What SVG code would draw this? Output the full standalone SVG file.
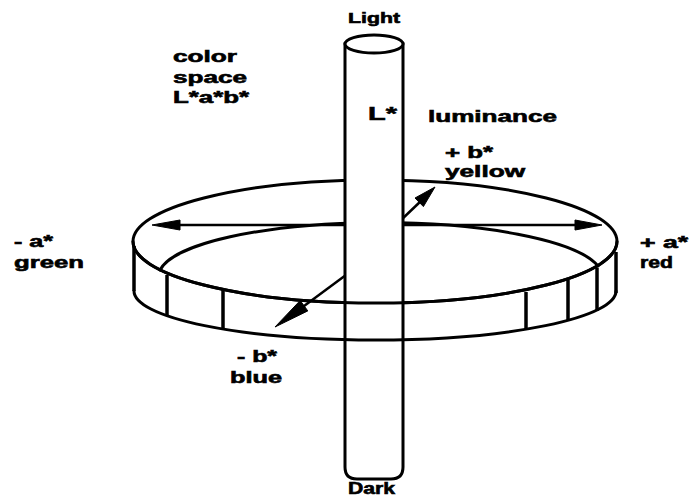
<svg xmlns="http://www.w3.org/2000/svg" width="689" height="500" viewBox="0 0 689 500">
<style>
.ln{fill:none;stroke:#000;stroke-width:3;stroke-linecap:round}
.tk{fill:none;stroke:#000;stroke-width:3.5}
.ar{fill:none;stroke:#000;stroke-width:2.5}
.hd{fill:#000;stroke:#000;stroke-width:1;stroke-linejoin:miter}
.t{font-family:"Liberation Sans",Arial,sans-serif;font-weight:bold;fill:#000;stroke:#000;stroke-width:0.6}
</style>
<g id="ring-back">
<ellipse class="ln" cx="375" cy="241.5" rx="242" ry="61.5"/>
<path class="ln" d="M160,270 A222,54 0 0 1 598,266"/>
</g>
<g id="connectors">
<line class="ar" x1="374" y1="225" x2="170" y2="225"/>
<polygon class="hd" points="152,225 180,220 180,230"/>
<line class="ar" x1="374" y1="225" x2="585" y2="225"/>
<polygon class="hd" points="602,225 575,220 575,230"/>
<line class="ar" x1="400" y1="221" x2="422" y2="200"/>
<polygon class="hd" points="435,187 423.4,206.6 415,198"/>
<line class="ar" x1="350" y1="272" x2="300" y2="309"/>
<polygon class="hd" points="275,327 307.8,310.9 300.2,300.5"/>
</g>
<g id="cylinder">
<path class="ln" style="fill:#fff" d="M345,44 L345,467 Q345,479 357,479 L391,479 Q403,479 403,467 L403,44 Z"/>
<ellipse class="ln" style="fill:#fff" cx="374" cy="44" rx="29" ry="9"/>
</g>
<g id="ring-front">
<path class="ln" d="M133,241.5 A242,61.5 0 0 0 617,241.5"/>
<path class="ln" d="M134,291 A241,49 0 0 0 616,291"/>
<line class="tk" x1="134" y1="246" x2="134" y2="291"/>
<line class="tk" x1="616" y1="252" x2="616" y2="293"/>
<line class="tk" x1="167" y1="275" x2="167" y2="315"/>
<line class="tk" x1="223" y1="290" x2="223" y2="329"/>
<line class="tk" x1="526" y1="292" x2="526" y2="329"/>
<line class="tk" x1="568" y1="280" x2="568" y2="321"/>
<line class="tk" x1="597" y1="268" x2="597" y2="311"/>
</g>
<g id="labels">
<text class="t" x="348" y="23" font-size="15" textLength="52" lengthAdjust="spacingAndGlyphs">Light</text>
<text class="t" x="348" y="494" font-size="16" textLength="47" lengthAdjust="spacingAndGlyphs">Dark</text>
<text class="t" x="368" y="120" font-size="19" textLength="29" lengthAdjust="spacingAndGlyphs">L*</text>
<text class="t" x="428" y="122" font-size="17" textLength="129" lengthAdjust="spacingAndGlyphs">luminance</text>
<text class="t" x="173" y="62" font-size="16" textLength="64" lengthAdjust="spacingAndGlyphs">color</text>
<text class="t" x="173" y="83" font-size="16" textLength="74" lengthAdjust="spacingAndGlyphs">space</text>
<text class="t" x="173" y="103" font-size="16" textLength="76" lengthAdjust="spacingAndGlyphs">L*a*b*</text>
<text class="t" x="14" y="247" font-size="16" textLength="39" lengthAdjust="spacingAndGlyphs">- a*</text>
<text class="t" x="14" y="268" font-size="16" textLength="70" lengthAdjust="spacingAndGlyphs">green</text>
<text class="t" x="640" y="248" font-size="16" textLength="48" lengthAdjust="spacingAndGlyphs">+ a*</text>
<text class="t" x="640" y="268" font-size="16" textLength="33" lengthAdjust="spacingAndGlyphs">red</text>
<text class="t" x="445" y="158" font-size="16" textLength="48" lengthAdjust="spacingAndGlyphs">+ b*</text>
<text class="t" x="445" y="177" font-size="16" textLength="80" lengthAdjust="spacingAndGlyphs">yellow</text>
<text class="t" x="237" y="362" font-size="16" textLength="40" lengthAdjust="spacingAndGlyphs">- b*</text>
<text class="t" x="230" y="383" font-size="16" textLength="52" lengthAdjust="spacingAndGlyphs">blue</text>
</g>
</svg>
